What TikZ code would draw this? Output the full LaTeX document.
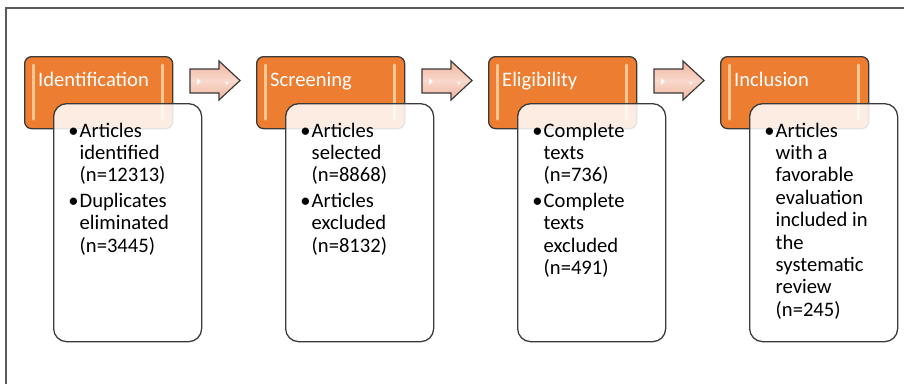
\documentclass[tikz,border=0pt]{standalone}
\usepackage{fontspec}
\setmainfont{Carlito}
\definecolor{orng}{HTML}{ED7D31}
\definecolor{bordc}{HTML}{3A3A3A}
\definecolor{arrA}{HTML}{F0B49C}
\definecolor{arrB}{HTML}{F9D9CC}
\definecolor{hilite}{HTML}{FCE0B8}
\definecolor{framec}{HTML}{5A5A5A}
\newcommand{\tline}[1]{\hbox{#1}}
\newcommand{\bline}[1]{\hbox{\llap{•\hspace{1pt}}#1}}
\newcommand{\gapline}{\vskip3pt}
\begin{document}
\begin{tikzpicture}[x=1pt,y=-1pt,
  stagebox/.style={draw=bordc, line width=1.3pt, fill=orng, rounded corners=7pt,
    minimum width=148pt, minimum height=72pt, anchor=north west, inner sep=0pt},
  detailbox/.style={draw=bordc, line width=1.3pt, fill=white, fill opacity=0.86,
    rounded corners=13pt, minimum width=148pt, minimum height=238pt,
    anchor=north west, inner sep=0pt},
  titletext/.style={anchor=base west, inner sep=0pt, text=white,
    font=\fontsize{20.6}{24}\selectfont},
  bodytext/.style={anchor=base west, inner sep=0pt, text=black,
    font=\fontsize{20.6}{22.4}\selectfont},
  arrowshape/.style={draw=bordc, line width=1.2pt, shading=axis,
    top color=arrA, bottom color=arrA, middle color=arrB},
  glint/.style={line width=3pt, color=hilite, line cap=round, opacity=0.75}
]
\useasboundingbox (0,0) rectangle (904,384);
% frame
\draw[framec, line width=1.1pt] (6,384) -- (6,8) -- (904,8);

\foreach \k/\nm/\ttl in {0/a/Identification, 1/b/Screening, 2/c/Eligibility, 3/d/Inclusion}{
  \begin{scope}[xshift=\k*232pt]
    \node[stagebox] (stage\nm) at (24,56) {};
    \draw[glint] (33,65) -- (33,119);
    \draw[glint] (162,65) -- (162,119);
    \node[titletext] (title\nm) at (38,86) {\ttl};
  \end{scope}
}
\foreach \k in {0,1,2}{
  \begin{scope}[xshift=\k*232pt]
    \draw[arrowshape] (190,69) -- (219,69) -- (219,61) -- (240,80.5) -- (219,100)
      -- (219,93) -- (190,93) -- cycle;
    \fill[white, opacity=0.85] (197,78) -- (201,81.5) -- (197,85) -- cycle;
    \fill[white, opacity=0.85] (225,82) -- (229,82) -- (227,85) -- cycle;
  \end{scope}
}
\foreach \k/\nm in {0/a,1/b,2/c,3/d}{
  \node[detailbox] (detail\nm) at (53+\k*232,103) {};
}
\node[bodytext] (texta) at (79.5,137) {\vtop{\bline{Articles}\tline{identified}\tline{(n=12313)}\gapline
  \bline{Duplicates}\tline{eliminated}\tline{(n=3445)}}};
\node[bodytext] (textb) at (311.5,137) {\vtop{\bline{Articles}\tline{selected}\tline{(n=8868)}\gapline
  \bline{Articles}\tline{excluded}\tline{(n=8132)}}};
\node[bodytext] (textc) at (543.5,137) {\vtop{\bline{Complete}\tline{texts}\tline{(n=736)}\gapline
  \bline{Complete}\tline{texts}\tline{excluded}\tline{(n=491)}}};
\node[bodytext] (textd) at (775.5,137) {\vtop{\bline{Articles}\tline{with a}\tline{favorable}\tline{evaluation}\tline{included in}\tline{the}\tline{systematic}\tline{review}\tline{(n=245)}}};
\end{tikzpicture}
\end{document}
